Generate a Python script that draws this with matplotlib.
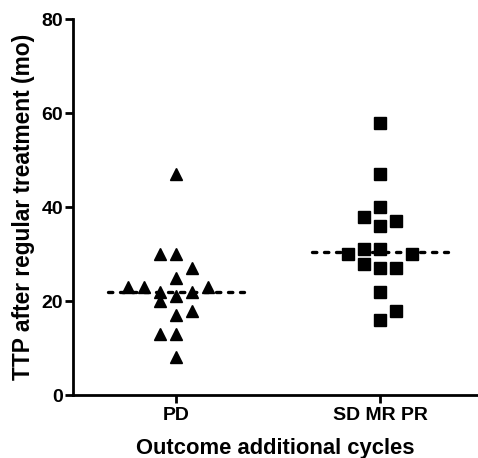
import numpy as np
import matplotlib.pyplot as plt

plt.rcParams['font.family'] = ['Liberation Sans', 'DejaVu Sans']
plt.rcParams['font.weight'] = 'bold'

groups = ["PD", "SD MR PR"]

# TTP values (months), with the column slot each point sits in
pd_values = [47, 30, 30, 27, 25, 23, 23, 23, 22, 22, 21, 20, 18, 17, 13, 13, 8]
pd_slots = [0, -1, 0, 1, 0, -3, -2, 2, -1, 1, 0, -1, 1, 0, -1, 0, 0]

sd_values = [58, 47, 40, 38, 37, 36, 31, 31, 30, 30, 28, 27, 27, 22, 18, 16]
sd_slots = [0, 0, 0, -1, 1, 0, -1, 0, -2, 2, -1, 0, 1, 0, 1, 0]

fig = plt.figure(figsize=(4.78, 4.58), dpi=100)
ax = fig.add_axes([73/478, 63/458, 405/478, 375.5/458])

step = 0.079
for i, (vals, slots, mk, ms) in enumerate([(pd_values, pd_slots, '^', 8.2),
                                           (sd_values, sd_slots, 's', 8.3)]):
    xs = i + np.array(slots) * step
    ax.plot(xs, vals, linestyle='none', marker=mk, markersize=ms,
            color='black', zorder=3)
    med = np.median(vals)
    ax.plot([i - 0.335, i + 0.335], [med, med], color='black', lw=2.4,
            dashes=(1.3, 2.3), dash_capstyle='round', zorder=2)

ax.set_xlim(-0.505, 1.48)
ax.set_ylim(0, 80)
ax.set_yticks([0, 20, 40, 60, 80])
ax.set_xticks([0, 1])
ax.set_xticklabels(groups)

for s in ['top', 'right']:
    ax.spines[s].set_visible(False)
for s in ['left', 'bottom']:
    ax.spines[s].set_linewidth(2)
ax.tick_params(axis='both', width=2, length=6, labelsize=14)
ax.tick_params(axis='y', pad=1)
ax.tick_params(axis='x', pad=3)

ax.set_xlabel("Outcome additional cycles", fontsize=15.8, fontweight='bold', labelpad=10)
ax.set_ylabel("TTP after regular treatment (mo)", fontsize=16.4, fontweight='bold', labelpad=5)

fig.savefig("out.png", dpi=100)
